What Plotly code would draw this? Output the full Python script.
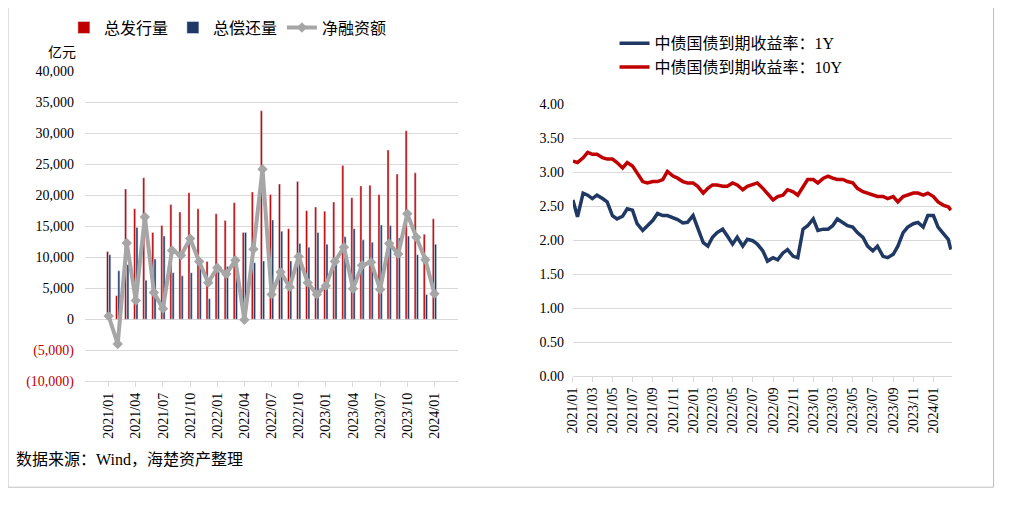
import pandas as pd
import plotly.graph_objects as go

# 左图：月度数据（亿元）
months = pd.date_range("2021-01-01", "2024-01-01", freq="MS").strftime("%Y/%m").tolist()
issue = [10900, 3800, 21000, 17800, 22800, 14000, 15100, 18500, 17300, 20400, 17800, 9300,
         17000, 15900, 18800, 14000, 20500, 33600, 20100, 21800, 14600, 22200, 17500, 18100,
         17400, 18900, 24800, 19600, 21500, 21600, 20100, 27300, 23400, 30400, 23600, 13700, 16200]
repay = [10400, 7800, 8800, 14800, 6300, 9700, 13400, 7500, 7000, 7500, 8700, 3300,
         7600, 8500, 9300, 14000, 9100, 9400, 16000, 14200, 9400, 12200, 11600, 14000,
         12100, 9600, 13300, 14600, 12800, 12400, 15200, 15100, 13100, 13400, 10400, 4000, 12100]
net = [500, -4000, 12300, 3000, 16500, 4300, 1700, 11100, 10300, 13000, 9300, 5900,
       8300, 7300, 9500, -100, 11300, 24200, 4000, 7600, 5200, 10100, 5900, 4000,
       5400, 9300, 11600, 4900, 8700, 9200, 4800, 12200, 10500, 17000, 13200, 9600, 4100]

# 右图：国债收益率（%），半月取点
dates = pd.date_range("2021-01-01", periods=76, freq="SMS").strftime("%Y-%m-%d").tolist() + ["2024-02-23"]
y10 = [3.16, 3.14, 3.21, 3.29, 3.26, 3.26, 3.21, 3.19, 3.19, 3.14, 3.06, 3.14, 3.09, 2.99, 2.86, 2.84,
       2.86, 2.86, 2.89, 3.01, 2.94, 2.91, 2.86, 2.84, 2.84, 2.79, 2.69, 2.76, 2.81, 2.81, 2.79, 2.79,
       2.84, 2.81, 2.74, 2.79, 2.81, 2.84, 2.76, 2.69, 2.59, 2.64, 2.66, 2.74, 2.71, 2.66, 2.79, 2.89,
       2.89, 2.84, 2.91, 2.94, 2.91, 2.89, 2.89, 2.86, 2.84, 2.76, 2.71, 2.69, 2.66, 2.64, 2.64, 2.61,
       2.64, 2.56, 2.64, 2.66, 2.69, 2.69, 2.66, 2.69, 2.64, 2.56, 2.51, 2.49, 2.44]
y1 = [2.59, 2.34, 2.69, 2.66, 2.61, 2.66, 2.61, 2.56, 2.36, 2.31, 2.35, 2.46, 2.44, 2.24, 2.14, 2.21,
      2.29, 2.39, 2.36, 2.36, 2.33, 2.30, 2.25, 2.26, 2.36, 2.19, 1.96, 1.91, 2.04, 2.11, 2.16, 2.06,
      1.94, 2.04, 1.91, 2.01, 1.99, 1.94, 1.84, 1.69, 1.74, 1.71, 1.81, 1.86, 1.76, 1.74, 2.16, 2.21,
      2.31, 2.14, 2.16, 2.16, 2.21, 2.31, 2.26, 2.21, 2.19, 2.11, 2.04, 1.91, 1.84, 1.91, 1.76, 1.74,
      1.79, 1.91, 2.11, 2.19, 2.24, 2.26, 2.19, 2.36, 2.36, 2.19, 2.09, 2.01, 1.86]

RED = "#C00000"
NAVY = "#1F3864"
GREY = "#A6A6A6"
FONT = "Liberation Serif, Noto Sans CJK SC"

fig = go.Figure()
fig.add_trace(go.Bar(x=months, y=issue, name="总发行量", marker_color=RED, xaxis="x", yaxis="y", legend="legend"))
fig.add_trace(go.Bar(x=months, y=repay, name="总偿还量", marker_color=NAVY, xaxis="x", yaxis="y", legend="legend"))
fig.add_trace(go.Scatter(x=months, y=net, name="净融资额", mode="lines+markers",
                         line=dict(color=GREY, width=4), marker=dict(symbol="diamond", size=8, color=GREY),
                         xaxis="x", yaxis="y", legend="legend"))
fig.add_trace(go.Scatter(x=dates, y=y1, name="中债国债到期收益率：1Y", mode="lines",
                         line=dict(color=NAVY, width=3.5), xaxis="x2", yaxis="y2", legend="legend2"))
fig.add_trace(go.Scatter(x=dates, y=y10, name="中债国债到期收益率：10Y", mode="lines",
                         line=dict(color=RED, width=3.5), xaxis="x2", yaxis="y2", legend="legend2"))

ltick = list(range(-10000, 40001, 5000))
ltext = [f'<span style="color:{RED}">({abs(v):,})</span>' if v < 0 else f"{v:,}" for v in ltick]

fig.update_layout(
    width=1016, height=522, margin=dict(l=0, r=0, t=0, b=0, autoexpand=False),
    paper_bgcolor="white", plot_bgcolor="white",
    font=dict(family=FONT, size=14, color="black"),
    barmode="group", bargap=0.5, bargroupgap=0.1,
    xaxis=dict(domain=[0.0758, 0.443], type="category", tickvals=months[::3], tickangle=-90,
               showline=True, linecolor="#D9D9D9", ticks="outside", tickcolor="#D9D9D9", ticklen=5,
               automargin=False),
    yaxis=dict(domain=[0.285, 0.879], range=[-10000, 40000], tickvals=ltick, ticktext=ltext,
               showgrid=True, gridcolor="#D9D9D9", zeroline=False, anchor="x", ticklabelstandoff=10,
               automargin=False),
    xaxis2=dict(domain=[0.556, 0.929], type="date", range=["2021-01-01", "2024-02-26"],
                tickformat="%Y/%m", dtick="M2", tick0="2021-01-01", tickangle=-90,
                showline=True, linecolor="#D9D9D9", ticks="outside", tickcolor="#D9D9D9",
                ticklen=5, anchor="y2", showgrid=False, automargin=False),
    yaxis2=dict(domain=[0.295, 0.816], range=[0, 4.0], dtick=0.5, tickformat=".2f",
                showgrid=True, gridcolor="#D9D9D9", zeroline=False, anchor="x2", ticklabelstandoff=8,
                automargin=False),
    legend=dict(orientation="h", x=0.055, y=0.995, yanchor="top", font=dict(size=16), bgcolor="rgba(0,0,0,0)"),
    legend2=dict(x=0.597, y=0.965, yanchor="top", font=dict(size=16), tracegroupgap=10,
                 bgcolor="rgba(0,0,0,0)"),
    annotations=[
        dict(text="亿元", x=0.037, y=0.932, xref="paper", yref="paper", showarrow=False, font=dict(size=14)),
        dict(text="数据来源：Wind，海楚资产整理", x=0.006, y=0.115, xref="paper", yref="paper",
             xanchor="left", showarrow=False, font=dict(size=16)),
    ],
    shapes=[dict(type="rect", xref="paper", yref="paper", x0=0.0, x1=0.970, y0=0.082, y1=1.02,
                 line=dict(color="#BFBFBF", width=1))],
)

fig.write_html("out.html")
